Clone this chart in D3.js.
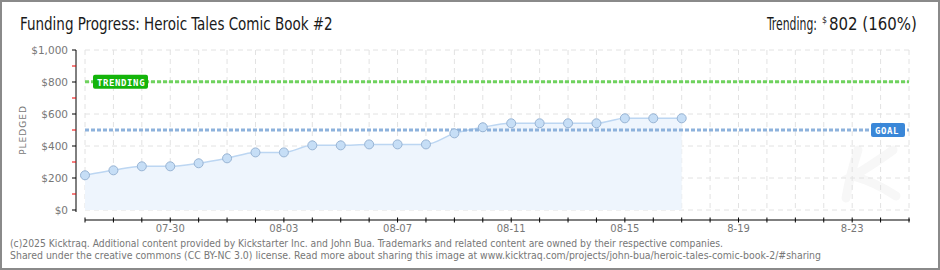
<!DOCTYPE html>
<html>
<head>
<meta charset="utf-8">
<script src="https://cdn.jsdelivr.net/npm/d3@7"></script>
<style>
  body { margin: 0; background: #fff; }
  svg { display: block; }
</style>
</head>
<body>
<div id="chart"></div>
<script>
// data
const days = ['2025-07-27','2025-07-28','2025-07-29','2025-07-30','2025-07-31','2025-08-01','2025-08-02',
  '2025-08-03','2025-08-04','2025-08-05','2025-08-06','2025-08-07','2025-08-08','2025-08-09','2025-08-10',
  '2025-08-11','2025-08-12','2025-08-13','2025-08-14','2025-08-15','2025-08-16','2025-08-17']
const pledged = [217, 248, 273, 273, 292, 323, 360, 360, 404, 404, 410, 410, 410, 479, 517,
  542, 542, 542, 542, 573, 573, 573]
const goal = 500
const trending = 802
const axisStart = '2025-07-27', axisEnd = '2025-08-25'
const xLabelDays = ['2025-07-30','2025-08-03','2025-08-07','2025-08-11','2025-08-15','2025-08-19','2025-08-23']
const xLabelText = ['07-30','08-03','08-07','08-11','08-15','8-19','8-23']
const yTicks = [0, 200, 400, 600, 800, 1000]
const yMinor = [100, 300, 500, 700, 900]

const W = 940, H = 270
const parse = d3.timeParse('%Y-%m-%d')
const svg = d3.select('#chart').append('svg').attr('width', W).attr('height', H)

// frame
svg.append('rect').attr('x', 1).attr('y', 1).attr('width', W - 2).attr('height', H - 2)
  .attr('fill', '#fff').attr('stroke', '#8a8a8a').attr('stroke-width', 2)

const x = d3.scaleTime().domain([parse(axisStart), parse(axisEnd)]).range([85, 909])
const y = d3.scaleLinear().domain([0, 1000]).range([210, 50])
const allDays = d3.timeDay.range(parse(axisStart), d3.timeDay.offset(parse(axisEnd), 1))

// faint watermark "K" drawn as strokes
const wm = d3.path()
wm.moveTo(858, 150); wm.quadraticCurveTo(850, 175, 846, 198)
wm.moveTo(893, 150); wm.quadraticCurveTo(868, 168, 853, 176)
wm.quadraticCurveTo(875, 182, 896, 196)
svg.append('path').attr('d', wm.toString()).attr('fill', 'none')
  .attr('stroke', '#f7f7f7').attr('stroke-width', 9).attr('stroke-linecap', 'round')

// grid
const grid = svg.append('g').attr('stroke', '#e2e2e2').attr('stroke-dasharray', '5,4')
grid.selectAll('.gv').data(allDays).join('line')
  .attr('x1', d => x(d)).attr('x2', d => x(d)).attr('y1', y(1000)).attr('y2', y(0))
grid.selectAll('.gh').data(yTicks).join('line')
  .attr('x1', x(parse(axisStart))).attr('x2', x(parse(axisEnd))).attr('y1', d => y(d)).attr('y2', d => y(d))

// area + line
const pts = days.map((d, i) => ({ date: parse(d), v: pledged[i] }))
svg.append('path').datum(pts)
  .attr('d', d3.area().x(d => x(d.date)).y0(y(0)).y1(d => y(d.v)).curve(d3.curveMonotoneX))
  .attr('fill', '#eef5fd')
svg.append('path').datum(pts)
  .attr('d', d3.line().x(d => x(d.date)).y(d => y(d.v)).curve(d3.curveMonotoneX))
  .attr('fill', 'none').attr('stroke', '#bcd6f2').attr('stroke-width', 1.5)

// trending + goal lines
svg.append('line').attr('x1', 85).attr('x2', 909).attr('y1', y(trending)).attr('y2', y(trending))
  .attr('stroke', '#6fd25e').attr('stroke-width', 3).attr('stroke-dasharray', '4,2')
svg.append('line').attr('x1', 85).attr('x2', 909).attr('y1', y(goal)).attr('y2', y(goal))
  .attr('stroke', '#8db2dc').attr('stroke-width', 3).attr('stroke-dasharray', '4,2')

// points
svg.selectAll('.pt').data(pts).join('circle')
  .attr('cx', d => x(d.date)).attr('cy', d => y(d.v)).attr('r', 4.5)
  .attr('fill', '#c6def6').attr('stroke', '#98b4d4').attr('stroke-width', 1)

// labels on lines
function tag(x0, yc, w, txt, col) {
  svg.append('rect').attr('x', x0).attr('y', yc - 7).attr('width', w).attr('height', 14)
    .attr('rx', 2).attr('fill', col)
  svg.append('text').attr('x', x0 + 4).attr('y', yc + 4)
    .style('font', 'bold 9px "DejaVu Sans Mono"').attr('letter-spacing', '0.6px')
    .attr('fill', '#fff').text(txt)
}
tag(93, y(trending), 55, 'TRENDING', '#14b40a')
tag(871, y(goal), 34, 'GOAL', '#3a87d8')

// y axis
const yAxis = svg.append('g')
yAxis.append('line').attr('x1', 76).attr('x2', 76).attr('y1', 50).attr('y2', 212).attr('stroke', '#000')
yAxis.selectAll('.yt').data(yTicks).join('line')
  .attr('x1', 72).attr('x2', 76).attr('y1', d => y(d)).attr('y2', d => y(d)).attr('stroke', '#000')
yAxis.selectAll('.ym').data(yMinor).join('line')
  .attr('x1', 72).attr('x2', 76).attr('y1', d => y(d)).attr('y2', d => y(d)).attr('stroke', '#e00')
yAxis.selectAll('.yl').data(yTicks).join('text')
  .attr('x', 68).attr('y', d => y(d) + 4).attr('text-anchor', 'end')
  .style('font', '10.5px "DejaVu Sans"').attr('fill', '#777')
  .text(d => '$' + d3.format(',')(d))
svg.append('text').attr('transform', 'translate(26,130) rotate(-90)').attr('text-anchor', 'middle')
  .style('font', '9px "DejaVu Sans"').attr('letter-spacing', '1px').attr('fill', '#777').text('PLEDGED')

// x axis
const xAxis = svg.append('g')
xAxis.append('line').attr('x1', 85).attr('x2', 910).attr('y1', 220).attr('y2', 220).attr('stroke', '#000')
xAxis.selectAll('.xt').data(allDays).join('line')
  .attr('x1', d => x(d)).attr('x2', d => x(d)).attr('y1', 217.5).attr('y2', 222.5).attr('stroke', '#000')
xAxis.selectAll('.xl').data(xLabelDays).join('text')
  .attr('x', d => x(parse(d))).attr('y', 232).attr('text-anchor', 'middle')
  .style('font', '10px "DejaVu Sans"').attr('fill', '#777')
  .text((d, i) => xLabelText[i])

// header texts squeezed horizontally to the reference widths
const headFont = '17px "DejaVu Sans Condensed"'
function squeezed(x0, y0, w, font, txt) {
  const t = svg.append('text').style('font', font).attr('fill', '#1a1a1a').text(txt)
  const k = w / t.node().getComputedTextLength()
  t.attr('transform', `translate(${x0},${y0}) scale(${k},1)`)
  return t
}
squeezed(20, 30, 313, headFont, 'Funding Progress: Heroic Tales Comic Book #2')
squeezed(767, 30, 50, headFont, 'Trending:')
squeezed(822, 23, 5, '8px "DejaVu Sans Condensed"', '$')
squeezed(829, 30, 88, headFont, trending + ' (160%)')

// footer
svg.append('text').attr('x', 10).attr('y', 246.5).attr('textLength', 713).attr('lengthAdjust', 'spacingAndGlyphs')
  .style('font', '10px "DejaVu Sans Condensed"').attr('fill', '#777')
  .text('(c)2025 Kicktraq. Additional content provided by Kickstarter Inc. and John Bua. Trademarks and related content are owned by their respective companies.')
svg.append('text').attr('x', 10).attr('y', 258.5).attr('textLength', 811).attr('lengthAdjust', 'spacingAndGlyphs')
  .style('font', '10px "DejaVu Sans Condensed"').attr('fill', '#777')
  .text('Shared under the creative commons (CC BY-NC 3.0) license. Read more about sharing this image at www.kicktraq.com/projects/john-bua/heroic-tales-comic-book-2/#sharing')
</script>
</body>
</html>
